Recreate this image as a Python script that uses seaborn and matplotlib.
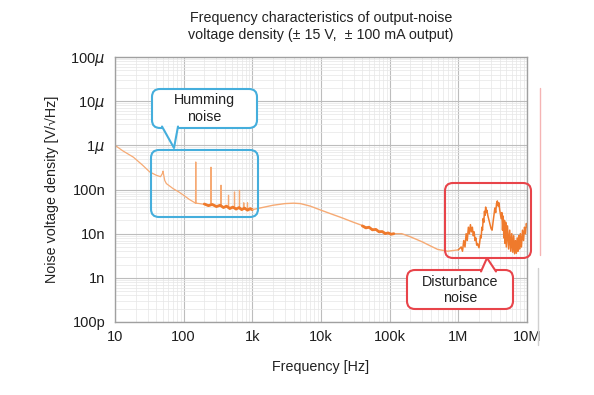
import numpy as np
import pandas as pd
import matplotlib
matplotlib.use('Agg')
import matplotlib.pyplot as plt
import seaborn as sns
from matplotlib.patches import FancyBboxPatch, Polygon
from matplotlib.lines import Line2D
from matplotlib.ticker import LogLocator, FixedLocator, NullFormatter
import matplotlib.transforms as mtransforms

# ---- data (Hz, V/sqrt(Hz)) ----
hum_freq = [10, 13, 18.5, 25, 32, 40, 46, 49, 50, 51, 53, 56, 70, 85, 100, 120, 146,
            149, 150, 151, 170, 200, 240, 248, 250, 252, 300, 348, 350, 352, 400, 448,
            450, 452, 500, 548, 550, 552, 600, 648, 650, 652, 700, 748, 750, 752, 800,
            848, 850, 852, 900, 1000]
hum_val = [1.0e-6, 7.5e-7, 5.4e-7, 3.6e-7, 2.5e-7, 2.1e-7, 1.95e-7, 2.3e-7, 2.6e-7, 2.2e-7,
           1.6e-7, 1.36e-7, 1.05e-7, 8.8e-8, 7.4e-8, 6.0e-8, 5.0e-8,
           4.9e-8, 4.2e-7, 4.9e-8, 4.8e-8, 4.6e-8, 4.5e-8, 4.5e-8, 3.2e-7, 4.5e-8, 4.3e-8,
           4.2e-8, 1.25e-7, 4.2e-8, 4.0e-8, 4.0e-8, 7.4e-8, 4.0e-8, 3.9e-8, 3.8e-8, 8.8e-8,
           3.8e-8, 3.8e-8, 3.7e-8, 9.6e-8, 3.7e-8, 3.7e-8, 3.6e-8, 5.0e-8, 3.6e-8, 3.6e-8,
           3.6e-8, 5.0e-8, 3.6e-8, 3.5e-8, 3.5e-8]

band_freq = [200, 230, 260, 300, 340, 380, 420, 470, 520, 580, 640, 700, 770, 850, 930, 1000]
band_val = [4.7e-8, 4.3e-8, 4.6e-8, 4.1e-8, 4.4e-8, 3.9e-8, 4.2e-8, 3.7e-8, 4.0e-8, 3.6e-8,
            3.9e-8, 3.5e-8, 3.8e-8, 3.4e-8, 3.7e-8, 3.5e-8]

mid_freq = [1000, 1500, 2000, 3000, 4000, 5000, 7000, 10000, 15000, 20000, 30000, 50000,
            70000, 100000, 150000, 200000, 300000, 400000, 500000, 700000, 1000000]
mid_val = [3.5e-8, 4.0e-8, 4.4e-8, 4.8e-8, 4.9e-8, 4.8e-8, 4.2e-8, 3.4e-8, 2.7e-8, 2.3e-8,
           1.8e-8, 1.35e-8, 1.15e-8, 1.0e-8, 1.0e-8, 8.5e-9, 6.5e-9, 5.2e-9, 4.4e-9, 4.0e-9,
           4.3e-9]

flat_freq = [40000, 45000, 50000, 56000, 63000, 70000, 78000, 86000, 95000, 105000, 115000]
flat_val = [1.5e-8, 1.35e-8, 1.4e-8, 1.22e-8, 1.25e-8, 1.1e-8, 1.12e-8, 1.0e-8, 1.04e-8,
            0.97e-8, 1.0e-8]

# disturbance region, MHz / nV
dist_mhz = [1.0, 1.1, 1.15, 1.2, 1.25, 1.3, 1.35, 1.4, 1.45, 1.5, 1.55, 1.6, 1.65, 1.7, 1.75,
            1.8, 1.85, 1.9, 2.0, 2.05, 2.1, 2.15, 2.2, 2.25, 2.3, 2.35, 2.4, 2.45, 2.5, 2.55,
            2.6, 2.7, 2.8, 2.9, 3.0, 3.1, 3.2, 3.3, 3.4, 3.5, 3.6, 3.7, 3.8, 3.9, 4.0, 4.2,
            4.3, 4.4, 4.5, 4.6, 4.7, 4.8, 4.9, 5.0, 5.2, 5.4, 5.6, 5.8, 6.0, 6.2, 6.4, 6.6,
            6.8, 7.0, 7.2, 7.4, 7.6, 7.8, 8.0, 8.3, 8.6, 8.9, 9.2, 9.5, 9.8, 10.0]
dist_nv = [4.3, 5, 4, 7, 5, 10, 7, 14, 10, 16, 11, 14, 9, 11, 7,
           8, 5.5, 6, 4.8, 6.5, 9, 8, 14, 12, 22, 18, 32, 26, 40, 30,
           34, 25, 20, 16, 13, 12, 18, 26, 38, 30, 48, 55, 42, 50, 35, 22,
           30, 12, 25, 8, 20, 6, 18, 5, 15, 4.5, 12, 4, 10, 3.8, 9, 3.5,
           7, 3.6, 8, 4, 9, 4.5, 10, 5, 12, 7, 14, 10, 17, 14]

yticks = [1e-4, 1e-5, 1e-6, 1e-7, 1e-8, 1e-9, 1e-10]
ylabels = ['100$\\mu$', '10$\\mu$', '1$\\mu$', '100n', '10n', '1n', '100p']
xticks = [10, 100, 1e3, 1e4, 1e5, 1e6, 1e7]
xlabels = ['10', '100', '1k', '10k', '100k', '1M', '10M']

sns.set_style("white")
plt.rcParams['font.family'] = ['Liberation Sans', 'DejaVu Sans']

W, H = 594, 395
FS = 10.3
fig = plt.figure(figsize=(W / 100, H / 100), dpi=100)
ax = fig.add_axes([115 / W, 1 - 322 / H, 412 / W, 265 / H])
ax.set_xscale('log')
ax.set_yscale('log')
ax.set_xlim(10, 1e7)
ax.set_ylim(1e-10, 1e-4)

light = '#F6AA74'
dark = '#EF7A2C'

df_hum = pd.DataFrame({'f': hum_freq, 'v': hum_val})
df_band = pd.DataFrame({'f': band_freq, 'v': band_val})
df_mid = pd.DataFrame({'f': mid_freq, 'v': mid_val})
df_flat = pd.DataFrame({'f': flat_freq, 'v': flat_val})
df_dist = pd.DataFrame({'f': np.array(dist_mhz) * 1e6, 'v': np.array(dist_nv) * 1e-9})

kw = dict(x='f', y='v', estimator=None, sort=False, ax=ax, legend=False)
sns.lineplot(data=df_hum, color=light, linewidth=0.9, **kw)
sns.lineplot(data=df_band, color=dark, linewidth=2.0, **kw)
sns.lineplot(data=df_mid, color=light, linewidth=1.0, **kw)
sns.lineplot(data=df_flat, color=dark, linewidth=2.0, **kw)
sns.lineplot(data=df_dist, color=dark, linewidth=1.1, **kw)

ax.xaxis.set_major_locator(FixedLocator(xticks))
ax.set_xticklabels(xlabels)
ax.yaxis.set_major_locator(FixedLocator(yticks))
ax.set_yticklabels(ylabels)
ax.xaxis.set_minor_locator(LogLocator(base=10, subs=np.arange(2, 10), numticks=20))
ax.yaxis.set_minor_locator(LogLocator(base=10, subs=np.arange(2, 10), numticks=20))
ax.xaxis.set_minor_formatter(NullFormatter())
ax.yaxis.set_minor_formatter(NullFormatter())
ax.tick_params(which='both', length=0, labelsize=10.5, colors='#1E1E1E')
ax.tick_params(axis='x', pad=6)
ax.tick_params(axis='y', pad=7)
ax.grid(which='major', color='#BDBDBD', linewidth=0.8)
ax.grid(which='minor', color='#E6E6E6', linewidth=0.5)
ax.set_axisbelow(True)
for s in ax.spines.values():
    s.set_color('#A0A0A0')
    s.set_linewidth(1.0)

ax.set_xlabel('Frequency [Hz]', fontsize=FS, labelpad=11, color='#222222')
ax.set_ylabel('Noise voltage density [V/\u221aHz]', fontsize=FS, labelpad=8, color='#222222')
ax.set_title('Frequency characteristics of output-noise\n'
             'voltage density (\u00b1 15 V,  \u00b1 100 mA output)',
             fontsize=FS, pad=13, color='#222222', linespacing=1.25)

# ---- callouts, drawn in image-pixel coordinates ----
pix = mtransforms.Affine2D().scale(1, -1).translate(0, H)


def rbox(x0, y0, x1, y1, color, fill=True):
    p = FancyBboxPatch((x0, H - y1), x1 - x0, y1 - y0,
                       boxstyle='round,pad=0,rounding_size=8',
                       transform=mtransforms.IdentityTransform(),
                       facecolor='white' if fill else 'none',
                       edgecolor=color, linewidth=1.5, zorder=5, clip_on=False)
    fig.add_artist(p)


def tail(b0, b1, tip, color, ybase):
    fig.add_artist(Polygon([(b0, ybase), tip, (b1, ybase)], closed=True,
                           transform=pix, facecolor='white', edgecolor='none',
                           zorder=6, clip_on=False))
    fig.add_artist(Line2D([b0, tip[0], b1], [ybase, tip[1], ybase], transform=pix,
                          color=color, linewidth=1.5, zorder=7))


blue = '#45AEDC'
red = '#E8444A'
rbox(151, 150, 258, 217, blue, fill=False)
rbox(152, 89, 257, 128, blue)
tail(162, 178, (174, 148), blue, 126.5)
fig.text(204 / W, 1 - 108.5 / H, 'Humming\nnoise', ha='center', va='center',
         fontsize=FS, color='#222222', zorder=8, linespacing=1.25)

rbox(445, 183, 531, 258, red, fill=False)
rbox(407, 270, 513, 309, red)
tail(481, 496, (487, 258), red, 271.5)
fig.text(460 / W, 1 - 290 / H, 'Disturbance\nnoise', ha='center', va='center',
         fontsize=FS, color='#222222', zorder=8, linespacing=1.25)

# cropped remnants at the right edge
fig.add_artist(Line2D([540, 540], [88, 255], transform=pix, color='#F5B4B4', linewidth=1.0))
fig.add_artist(Line2D([538, 538], [268, 345], transform=pix, color='#D0D0D0', linewidth=1.0))

fig.savefig('out.png', dpi=100)
